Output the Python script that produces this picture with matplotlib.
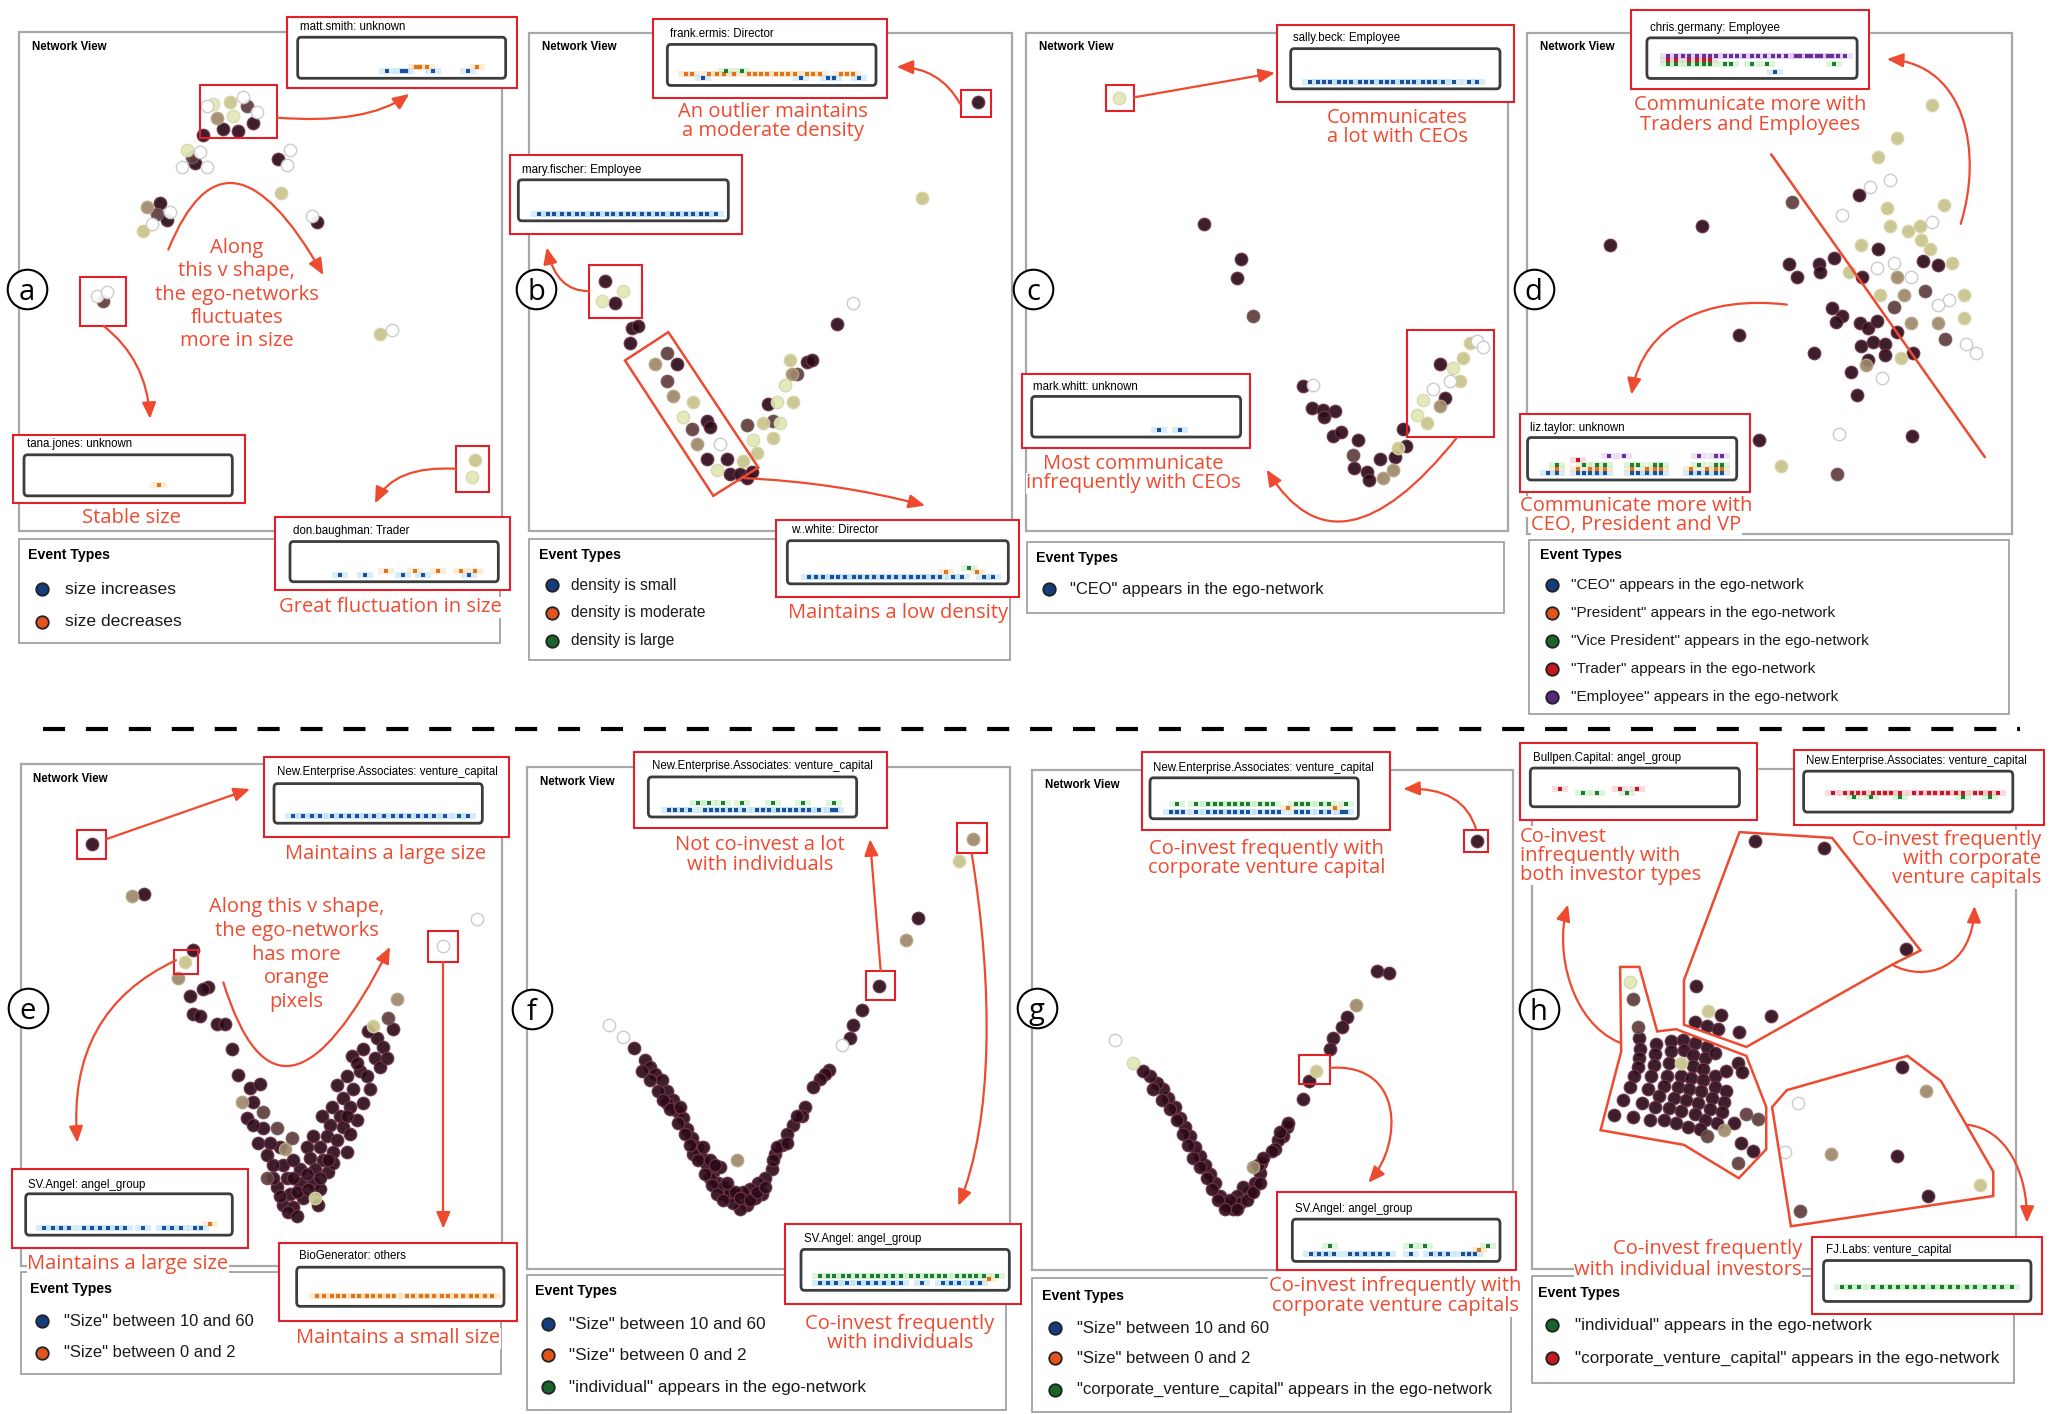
import matplotlib
matplotlib.use("Agg")
import matplotlib.pyplot as plt
from matplotlib.patches import Rectangle, FancyBboxPatch, Polygon, FancyArrowPatch
from matplotlib.path import Path

W, H = 2055, 1414

# ---------------------------------------------------------------- data
# network-view points per panel: (x, y, shade)  shade 0 dark .. 4 pale, 5 hollow
A_POINTS = [
    (640, 245, 4), (690, 240, 3), (740, 250, 1), (770, 265, 5), (650, 280, 2),
    (700, 275, 4), (670, 305, 0), (715, 310, 0), (610, 318, 0), (760, 290, 0),
    (730, 230, 5), (620, 250, 5),
    (560, 355, 4), (600, 360, 5), (585, 385, 0), (620, 395, 5), (545, 395, 5), (575, 370, 1),
    (440, 490, 2), (480, 480, 0), (510, 500, 5), (455, 530, 5), (430, 545, 3), (500, 520, 0),
    (470, 505, 1),
    (835, 375, 0), (870, 355, 5), (860, 390, 5), (843, 455, 3), (950, 525, 0), (935, 510, 5),
    (290, 700, 5), (320, 690, 5), (310, 712, 1),
    (1140, 790, 3), (1175, 780, 5),
    (1425, 1088, 3), (1415, 1128, 4),
]
B_POINTS = [
    (285, 665, 0), (340, 688, 4), (275, 712, 4), (315, 717, 0), (1405, 242, 0), (1235, 468, 3),
    (1030, 715, 5), (980, 765, 0), (365, 775, 0), (385, 770, 0), (360, 810, 0),
    (470, 835, 1), (500, 860, 0), (435, 860, 2), (470, 900, 1), (490, 935, 2), (550, 950, 3),
    (520, 985, 4), (590, 995, 0), (600, 1010, 0), (545, 1015, 1), (560, 1050, 2), (590, 1085, 0),
    (630, 1050, 5), (650, 1085, 0), (620, 1110, 4), (660, 1120, 0), (690, 1120, 0), (710, 1130, 0),
    (725, 1115, 0), (700, 1090, 3), (740, 1070, 3), (730, 1040, 4), (710, 1005, 1), (760, 1000, 3),
    (790, 995, 1), (810, 1000, 4), (790, 1035, 3), (775, 955, 0), (800, 950, 4), (850, 950, 3),
    (825, 910, 4), (860, 885, 1), (890, 855, 0), (840, 850, 3), (905, 850, 0), (845, 885, 2),
]
C_POINTS = [
    (297, 232, 4), (552, 530, 0), (662, 612, 0), (650, 658, 0), (700, 748, 1), (848, 913, 0),
    (880, 910, 5), (875, 965, 0), (910, 968, 0), (945, 972, 0), (912, 985, 0), (940, 1030, 0),
    (962, 1020, 0), (1015, 1040, 0), (1000, 1075, 1), (1003, 1105, 0), (1040, 1115, 0),
    (1048, 1135, 0), (1080, 1085, 0), (1090, 1130, 2), (1125, 1080, 0), (1120, 1110, 2),
    (1150, 1015, 0), (1158, 1055, 0), (1135, 1060, 3), (1260, 860, 0), (1370, 805, 5),
    (1390, 820, 5), (1330, 845, 3), (1300, 870, 4), (1320, 900, 3), (1275, 940, 0), (1240, 920, 5),
    (1210, 945, 4), (1260, 960, 2), (1190, 980, 4), (1220, 1000, 3), (1350, 810, 3), (1290, 900, 5),
]
D_POINTS = [
    (262, 530, 0), (532, 490, 0), (640, 725, 0), (857, 765, 0), (698, 953, 0), (1142, 945, 0),
    (988, 423, 0), (785, 572, 0), (808, 600, 0), (873, 572, 0), (875, 590, 0), (915, 558, 0),
    (997, 600, 0), (910, 668, 0), (940, 685, 0), (922, 698, 0), (990, 700, 0), (1015, 710, 0),
    (1040, 695, 0), (995, 750, 0), (1030, 740, 0), (1065, 745, 0), (1015, 780, 0), (1065, 770, 0),
    (965, 805, 0), (982, 855, 0), (1145, 765, 0), (1220, 575, 0), (1175, 565, 0), (1100, 720, 0),
    (1045, 540, 0),
    (793, 438, 1), (925, 1028, 1), (1090, 665, 1), (1180, 630, 1), (1240, 735, 1),
    (1120, 640, 2), (1140, 700, 2), (1220, 700, 2), (1010, 790, 2), (1100, 600, 2),
    (1200, 228, 3), (1100, 300, 3), (1045, 340, 3), (1070, 450, 3), (1235, 445, 3), (995, 530, 3),
    (1080, 490, 3), (1130, 500, 3), (1165, 490, 3), (1170, 520, 3), (1295, 640, 3), (1260, 570, 3),
    (1295, 690, 3), (960, 590, 3), (1110, 775, 3), (762, 1010, 3), (1195, 540, 3), (1050, 640, 3),
    (1080, 390, 5), (1020, 405, 5), (940, 465, 5), (1040, 580, 5), (1090, 570, 5), (1140, 600, 5),
    (1250, 650, 5), (1300, 745, 5), (1330, 765, 5), (1055, 820, 5), (930, 940, 5), (1200, 480, 5),
    (1220, 660, 5),
]
E_POINTS = [
    (275, 278, 0), (395, 395, 2), (432, 392, 0), (1432, 448, 5), (1330, 508, 5), (555, 545, 3),
    (580, 518, 0), (535, 580, 2),
    (570, 620, 0), (625, 600, 0), (610, 605, 0), (578, 660, 0), (600, 665, 0), (650, 683, 0),
    (675, 683, 0), (695, 740, 0), (715, 798, 0), (750, 828, 0), (780, 818, 0), (725, 858, 2),
    (760, 858, 0), (790, 882, 1), (740, 895, 0), (790, 918, 0), (830, 918, 1), (875, 940, 1),
    (775, 950, 0), (800, 978, 0), (855, 965, 2), (800, 1030, 1),
    (1190, 628, 2), (1165, 670, 1), (1120, 688, 3), (1180, 695, 0), (1130, 715, 0), (1150, 735, 0),
    (1090, 740, 0), (1055, 755, 0), (1125, 760, 0), (1080, 790, 0), (1100, 800, 0), (1040, 800, 0),
    (1010, 820, 0), (1060, 830, 0), (1030, 850, 0), (995, 870, 0), (1050, 870, 0), (1020, 890, 0),
    (965, 890, 0), (990, 910, 0), (1030, 915, 0), (940, 935, 0), (980, 935, 0), (1010, 945, 0),
    (920, 960, 0), (960, 960, 0), (1000, 970, 0), (930, 985, 0), (970, 990, 0), (900, 1010, 0),
    (945, 1010, 0), (985, 1015, 0), (850, 1000, 0), (880, 990, 0), (820, 1000, 0), (860, 1030, 0),
    (900, 1040, 0), (940, 1040, 0), (960, 1055, 0), (830, 1050, 0), (870, 1065, 0), (910, 1075, 0),
    (945, 1075, 3), (850, 1090, 0), (880, 1095, 0), (865, 1105, 0),
    (840, 1070, 0), (890, 1060, 0), (925, 1055, 0), (880, 1030, 0), (920, 1020, 0), (960, 1030, 0),
    (1000, 995, 0), (1040, 970, 0), (1070, 900, 0), (1090, 860, 0), (1110, 830, 0), (1140, 780, 0),
    (1160, 760, 0), (1070, 770, 0), (985, 990, 0), (955, 1090, 0), (890, 1115, 0), (820, 1030, 0),
    (840, 960, 0), (810, 950, 0), (760, 910, 0), (1105, 700, 0), (1050, 930, 0), (1040, 890, 0),
]
F_POINTS = [
    (1388, 268, 2), (1347, 318, 3), (1225, 445, 0), (1187, 495, 2), (1107, 598, 0), (1055, 652, 0),
    (1030, 685, 0), (1020, 715, 0), (995, 730, 5), (958, 787, 0), (945, 795, 0), (930, 808, 0),
    (910, 825, 0), (885, 870, 0), (875, 890, 0), (850, 910, 0), (830, 930, 0), (815, 955, 0),
    (795, 975, 0), (785, 1010, 0), (765, 1030, 0), (745, 1040, 0), (755, 1065, 0), (720, 1055, 0),
    (735, 1075, 0), (700, 1060, 0), (710, 1090, 0), (690, 1100, 0), (680, 990, 2), (298, 685, 5),
    (338, 712, 5), (372, 738, 0), (405, 765, 0), (420, 780, 0), (435, 795, 0), (455, 810, 0),
    (470, 835, 0), (490, 855, 0), (500, 880, 0), (520, 895, 0), (530, 920, 0), (545, 940, 0),
    (560, 960, 0), (575, 985, 0), (590, 1000, 0), (610, 1015, 0), (625, 1040, 0), (640, 1050, 0),
    (655, 1070, 0), (670, 1085, 0), (660, 1060, 0), (600, 1030, 0), (630, 1005, 0), (470, 860, 0),
    (505, 905, 0), (550, 975, 0),
    (395, 790, 0), (420, 810, 0), (445, 835, 0), (460, 855, 0), (480, 875, 0), (510, 870, 0),
    (525, 930, 0), (540, 955, 0), (565, 990, 0), (585, 1020, 0), (605, 1045, 0), (620, 1065, 0),
    (640, 1080, 0), (580, 960, 0), (600, 990, 0), (615, 1000, 0), (650, 1040, 0), (675, 1060, 0),
    (690, 1075, 0), (720, 1080, 0), (740, 1060, 0), (765, 1050, 0), (790, 990, 0), (800, 960, 0),
    (830, 950, 0), (860, 890, 0),
]
G_POINTS = [
    (1372, 272, 0), (1070, 565, 0), (1108, 568, 0), (1008, 640, 2), (980, 668, 0), (965, 690, 0),
    (940, 715, 0), (930, 740, 0), (888, 790, 3), (868, 812, 0), (848, 852, 0), (800, 915, 0),
    (790, 935, 0), (775, 945, 0), (765, 965, 0), (755, 968, 0), (722, 995, 0), (720, 1018, 0),
    (700, 1005, 2), (690, 1060, 0), (670, 1050, 0), (650, 1070, 0), (640, 1100, 0), (620, 1090, 0),
    (600, 1070, 0), (585, 1040, 0), (570, 1020, 0), (555, 1000, 0), (540, 980, 0), (525, 960, 0),
    (510, 935, 0), (495, 915, 0), (480, 895, 0), (465, 870, 0), (445, 850, 0), (430, 830, 0),
    (410, 815, 0), (390, 800, 0), (370, 790, 0), (340, 770, 4), (285, 720, 5), (660, 1085, 0),
    (630, 1080, 0), (705, 1040, 0),
    (400, 830, 0), (425, 855, 0), (450, 875, 0), (470, 900, 0), (490, 930, 0), (505, 955, 0),
    (520, 985, 0), (540, 1005, 0), (560, 1030, 0), (575, 1055, 0), (595, 1080, 0), (615, 1100, 0),
    (650, 1100, 0), (680, 1080, 0), (700, 1060, 0), (715, 1000, 0), (730, 985, 0), (780, 925, 0),
    (805, 905, 0), (720, 1040, 0),
]
H_POINTS = [
    (685, 272, 0), (885, 287, 0), (1125, 515, 0), (512, 598, 0), (548, 655, 3), (585, 662, 0),
    (510, 678, 0), (545, 688, 0), (578, 695, 0), (640, 702, 0), (732, 665, 0),
    (1115, 780, 0), (1183, 833, 2), (810, 862, 5), (772, 970, 5), (908, 975, 2), (1100, 980, 0),
    (1342, 1045, 3), (1190, 1070, 0), (815, 1103, 1),
    (322, 590, 4), (330, 628, 1), (345, 690, 1),
    (348, 715, 0), (350, 740, 0), (347, 760, 0), (343, 780, 0), (333, 800, 0), (320, 825, 0),
    (300, 855, 0), (275, 888, 0),
    (398, 728, 0), (395, 750, 0), (390, 775, 0), (382, 800, 0), (372, 830, 0), (355, 860, 0),
    (330, 893, 0),
    (440, 722, 0), (440, 745, 0), (435, 772, 0), (428, 800, 0), (420, 822, 0), (405, 845, 0),
    (395, 870, 0), (378, 900, 0),
    (475, 720, 0), (478, 742, 0), (470, 772, 3), (468, 800, 0), (460, 825, 0), (450, 850, 0),
    (435, 872, 0), (420, 900, 0),
    (510, 725, 0), (505, 752, 0), (505, 778, 0), (500, 805, 0), (492, 830, 0), (485, 855, 0),
    (470, 880, 0), (455, 905, 0),
    (545, 735, 0), (540, 760, 0), (535, 785, 0), (535, 810, 0), (528, 835, 0), (520, 860, 0),
    (510, 885, 0), (490, 915, 0),
    (568, 748, 0), (570, 800, 0), (568, 825, 0), (560, 850, 0), (555, 875, 0), (540, 900, 0),
    (525, 920, 0),
    (600, 788, 0), (600, 835, 0), (595, 858, 0), (590, 882, 0), (575, 905, 0),
    (635, 770, 0), (648, 792, 0), (625, 905, 0), (545, 935, 1), (595, 922, 2), (660, 885, 1),
    (695, 898, 1), (645, 950, 0), (680, 968, 0), (635, 995, 1),
]

# ego-network timelines: position along the strip per event type
# b blue, o orange, g green, r red, p purple
TL_MATT = {"b": [0.43, 0.50, 0.52, 0.65, 0.82], "o": [0.57, 0.59, 0.62, 0.86]}
TL_TANA = {"o": [0.65]}
TL_DON = {"b": [0.24, 0.36, 0.54, 0.64, 0.86], "o": [0.46, 0.60, 0.71, 0.82, 0.89]}
TL_FRANK = {
    "o": [0.09, 0.12, 0.20, 0.24, 0.27, 0.32, 0.39, 0.42, 0.45, 0.48, 0.52, 0.55, 0.58, 0.61,
          0.67, 0.70, 0.73, 0.83, 0.86, 0.89],
    "b": [0.17, 0.64, 0.77, 0.80, 0.92],
    "g": [0.28, 0.36],
}
TL_MARY = {"b": [0.10, 0.14, 0.17, 0.21, 0.24, 0.28, 0.31, 0.35, 0.38, 0.42, 0.45, 0.49, 0.52,
                 0.55, 0.59, 0.62, 0.66, 0.69, 0.73, 0.76, 0.80, 0.83, 0.87, 0.90, 0.94]}
TL_WHITE = {
    "b": [0.10, 0.13, 0.16, 0.20, 0.23, 0.26, 0.30, 0.33, 0.36, 0.39, 0.43, 0.46, 0.49, 0.53,
          0.56, 0.59, 0.62, 0.66, 0.69, 0.75, 0.79, 0.89, 0.93],
    "o": [0.72, 0.86],
    "g": [0.82],
}
TL_SALLY = {"b": [0.09, 0.13, 0.16, 0.19, 0.23, 0.26, 0.29, 0.33, 0.36, 0.39, 0.43, 0.46, 0.49,
                  0.53, 0.56, 0.59, 0.63, 0.66, 0.69, 0.73, 0.78, 0.85, 0.89]}
TL_MARK = {"b": [0.61, 0.71]}
TL_CHRIS = {
    "r": [0.10, 0.14, 0.20, 0.24, 0.27, 0.30],
    "p": [0.10, 0.14, 0.17, 0.20, 0.24, 0.27, 0.30, 0.33, 0.37, 0.40, 0.43, 0.46, 0.50, 0.53,
          0.56, 0.60, 0.63, 0.66, 0.71, 0.73, 0.76, 0.78, 0.81, 0.83, 0.86, 0.88, 0.91, 0.94],
    "g": [0.10, 0.14, 0.20, 0.24, 0.27, 0.30, 0.37, 0.40, 0.50, 0.57, 0.89],
    "b": [0.61],
}
TL_LIZ = {
    "b": [0.10, 0.14, 0.24, 0.27, 0.30, 0.33, 0.37, 0.50, 0.53, 0.57, 0.61, 0.64, 0.78, 0.82,
          0.86, 0.90, 0.93],
    "o": [0.14, 0.24, 0.30, 0.33, 0.37, 0.50, 0.57, 0.61, 0.64, 0.78, 0.86, 0.90, 0.93],
    "g": [0.14, 0.27, 0.33, 0.37, 0.50, 0.53, 0.61, 0.64, 0.82, 0.90, 0.93],
    "r": [0.24],
    "p": [0.39, 0.46, 0.82, 0.90, 0.93],
}
TL_NEA_E = {"b": [0.09, 0.14, 0.18, 0.22, 0.28, 0.32, 0.36, 0.40, 0.44, 0.48, 0.53, 0.57, 0.61,
                  0.65, 0.69, 0.73, 0.77, 0.82, 0.89, 0.93]}
TL_SV_E = {"b": [0.09, 0.13, 0.17, 0.21, 0.28, 0.32, 0.36, 0.40, 0.44, 0.48, 0.57, 0.67, 0.71,
                 0.75, 0.82, 0.85],
           "o": [0.89]}
TL_BIO = {"o": [0.10, 0.13, 0.17, 0.20, 0.23, 0.27, 0.30, 0.34, 0.37, 0.40, 0.44, 0.47, 0.53,
                0.56, 0.60, 0.63, 0.66, 0.70, 0.73, 0.77, 0.80, 0.84, 0.87, 0.91, 0.94]}
TL_NEA_F = {
    "b": [0.10, 0.13, 0.16, 0.20, 0.27, 0.30, 0.33, 0.36, 0.39, 0.42, 0.46, 0.52, 0.55, 0.58,
          0.62, 0.65, 0.68, 0.71, 0.74, 0.77, 0.82, 0.88, 0.90],
    "g": [0.24, 0.29, 0.36, 0.45, 0.60, 0.74, 0.89],
}
TL_SV_F = {
    "g": [0.09, 0.13, 0.16, 0.20, 0.23, 0.27, 0.30, 0.34, 0.37, 0.41, 0.44, 0.48, 0.53, 0.56,
          0.60, 0.63, 0.66, 0.69, 0.75, 0.78, 0.81, 0.84, 0.88, 0.94],
    "b": [0.09, 0.13, 0.17, 0.22, 0.28, 0.32, 0.36, 0.40, 0.44, 0.48, 0.58, 0.68, 0.72, 0.76,
          0.82, 0.86],
    "o": [0.90],
}
TL_NEA_G = {
    "b": [0.10, 0.13, 0.16, 0.22, 0.28, 0.31, 0.34, 0.38, 0.41, 0.44, 0.47, 0.53, 0.56, 0.59,
          0.62, 0.70, 0.73, 0.76, 0.82, 0.86, 0.92, 0.94],
    "g": [0.13, 0.22, 0.28, 0.31, 0.34, 0.38, 0.41, 0.44, 0.47, 0.53, 0.56, 0.59, 0.70, 0.73,
          0.76, 0.82, 0.86, 0.94],
    "o": [0.66, 0.89],
}
TL_SV_G = {
    "b": [0.09, 0.13, 0.16, 0.20, 0.28, 0.31, 0.35, 0.39, 0.42, 0.46, 0.57, 0.67, 0.71, 0.75,
          0.82, 0.85, 0.88],
    "g": [0.18, 0.57, 0.64, 0.94],
    "o": [0.90],
}
TL_BULLPEN = {"r": [0.14, 0.43, 0.51], "g": [0.25, 0.32, 0.46]}
TL_NEA_H = {
    "r": [0.14, 0.20, 0.23, 0.26, 0.29, 0.33, 0.36, 0.39, 0.42, 0.46, 0.53, 0.56, 0.60, 0.63,
          0.66, 0.69, 0.73, 0.76, 0.82, 0.85, 0.89, 0.93],
    "g": [0.24, 0.32, 0.46, 0.76, 0.89],
}
TL_FJ = {"g": [0.09, 0.13, 0.17, 0.24, 0.28, 0.32, 0.36, 0.40, 0.44, 0.48, 0.53, 0.57, 0.61,
               0.65, 0.69, 0.73, 0.78, 0.82, 0.86, 0.91]}

# legends
A_LEGEND = ["size increases", "size decreases"]
A_LEGEND_COL = ["b", "o"]
B_LEGEND = ["density is small", "density is moderate", "density is large"]
B_LEGEND_COL = ["b", "o", "g"]
C_LEGEND = ['"CEO" appears in the ego-network']
C_LEGEND_COL = ["b"]
D_LEGEND = ['"CEO" appears in the ego-network', '"President" appears in the ego-network',
            '"Vice President" appears in the ego-network', '"Trader" appears in the ego-network',
            '"Employee" appears in the ego-network']
D_LEGEND_COL = ["b", "o", "g", "r", "p"]
E_LEGEND = ['"Size" between 10 and 60', '"Size" between 0 and 2']
E_LEGEND_COL = ["b", "o"]
F_LEGEND = ['"Size" between 10 and 60', '"Size" between 0 and 2',
            '"individual" appears in the ego-network']
F_LEGEND_COL = ["b", "o", "g"]
G_LEGEND = ['"Size" between 10 and 60', '"Size" between 0 and 2',
            '"corporate_venture_capital" appears in the ego-network']
G_LEGEND_COL = ["b", "o", "g"]
H_LEGEND = ['"individual" appears in the ego-network',
            '"corporate_venture_capital" appears in the ego-network']
H_LEGEND_COL = ["g", "r"]

# ---------------------------------------------------------------- style
FACE = ["#2c0a1a", "#5e3b3d", "#9d886a", "#c8c48c", "#e3e6b6", "#ffffff"]
EDGE = ["#6a3445", "#735a58", "#b5a586", "#d6d3a6", "#d5d9b0", "#c8c8c8"]
EV_COL = {"b": "#1c4f9c", "o": "#e0731c", "g": "#1e7a35", "r": "#c01a28", "p": "#6a2f96"}
EV_HALO = {"b": "#a9d8f5", "o": "#fbd7a8", "g": "#b5ecb0", "r": "#f6b3b8", "p": "#d7c0ec"}
LEG_COL = {"b": "#133d7d", "o": "#e2531d", "g": "#17652b", "r": "#c9151d", "p": "#56297c"}
LEVEL = {"b": 0.17, "o": 0.27, "g": 0.36, "r": 0.46, "p": 0.56}
RED_BOX = "#e3202a"
RED = "#ee4a30"
SANS = ["Liberation Sans", "DejaVu Sans"]
NOTE = ["Open Sans", "DejaVu Sans"]
DASH = [(-1, -0.7), (1, -0.7), (1, 0.7), (-1, 0.7), (-1, -0.7)]
HALO = [(-1, -0.35), (1, -0.35), (1, 0.35), (-1, 0.35), (-1, -0.35)]

# window of the full image (x0, y0, w, h) that each panel's grid covers
WIN = {
    "a": (0, 0, 520, 660), "b": (510, 0, 520, 660), "c": (1020, 0, 520, 660),
    "d": (1520, 0, 535, 720), "e": (0, 720, 520, 694), "f": (510, 720, 520, 694),
    "g": (1020, 720, 520, 694), "h": (1520, 720, 535, 694),
}

fig = plt.figure(figsize=(W / 100, H / 100), dpi=100)
fig.patch.set_facecolor("white")

# separator between the two datasets
base = fig.add_axes([0, 0, 1, 1])
base.set_xlim(0, W)
base.set_ylim(H, 0)
base.axis("off")
base.plot([43, 2020], [729, 729], color="black", lw=3, ls=(0, (5.3, 5.0)))


def panel(key):
    x0, y0, w, h = WIN[key]
    ax = fig.add_axes([x0 / W, 1 - (y0 + h) / H, w / W, h / H])
    ax.set_xlim(0, 1560)
    ax.set_ylim(1560, 0)
    ax.axis("off")
    return ax


def rect(ax, r, color, lw, z=1, fill=None):
    x0, y0, x1, y1 = r
    ax.add_patch(Rectangle((x0, y0), x1 - x0, y1 - y0, facecolor=fill or "none",
                           edgecolor=color, lw=lw, zorder=z, clip_on=False))


def network_view(ax, r, title_xy, letter, letter_xy):
    rect(ax, r, "#a8a8a8", 1.6)
    ax.text(title_xy[0], title_xy[1], "Network View", fontsize=8.3, fontweight="bold",
            family=SANS, va="center", zorder=2)
    ax.plot(*letter_xy, "o", ms=28.5, mfc="white", mec="black", mew=1.5, zorder=8, clip_on=False)
    ax.text(letter_xy[0], letter_xy[1], letter, fontsize=21, family=NOTE, ha="center",
            va="center_baseline", zorder=9)


def points(ax, pts, s=80):
    for k in range(6):
        sel = [(x, y) for x, y, c in pts if c == k]
        if not sel:
            continue
        xs, ys = zip(*sel)
        ax.scatter(xs, ys, s=s, facecolor=FACE[k], edgecolor=EDGE[k], linewidths=1.0,
                   alpha=0.92, zorder=3, clip_on=False)


def timeline(ax, red, title, title_xy, strip, events):
    rect(ax, red, RED_BOX, 1.5, z=6, fill="white")
    ax.text(title_xy[0], title_xy[1], title, fontsize=8.3, family=SANS, va="center", zorder=7)
    sx0, sy0, sx1, sy1 = strip
    ax.add_patch(FancyBboxPatch((sx0, sy0), sx1 - sx0, sy1 - sy0,
                                boxstyle="round,pad=0,rounding_size=10", facecolor="white",
                                edgecolor="#3d3d3d", lw=2.0, zorder=7, clip_on=False))
    inv = fig.transFigure.inverted()
    fx0, fy0 = inv.transform(ax.transData.transform((sx0, sy1)))
    fx1, fy1 = inv.transform(ax.transData.transform((sx1, sy0)))
    tax = fig.add_axes([fx0, fy0, fx1 - fx0, fy1 - fy0])
    tax.set_xlim(0, 1)
    tax.set_ylim(0, 1)
    tax.axis("off")
    for k, xs in events.items():
        ys = [LEVEL[k]] * len(xs)
        tax.scatter(xs, ys, marker=HALO, s=130, c=EV_HALO[k], alpha=0.45, linewidths=0)
    for k, xs in events.items():
        tax.scatter(xs, [LEVEL[k]] * len(xs), marker=DASH, s=11, c=EV_COL[k], linewidths=0)


def legend(ax, r, title_xy, labels, cols, ys, dot_x, text_x, fs):
    rect(ax, r, "#9a9a9a", 1.2)
    ax.text(title_xy[0], title_xy[1], "Event Types", fontsize=10.2, fontweight="bold",
            family=SANS, va="center", zorder=2)
    for lab, col, y in zip(labels, cols, ys):
        ax.plot(dot_x, y, "o", ms=9, mfc=LEG_COL[col], mec="#222222", mew=1.3, zorder=2,
                clip_on=False)
        ax.text(text_x, y, lab, fontsize=fs, family=SANS, va="center", color="#1a1a1a", zorder=2)


def note(ax, x, ys, lines, ha="center", bg=True, fs=14.5):
    for y, s in zip(ys, lines):
        kw = {}
        if bg:
            kw["bbox"] = dict(facecolor="white", edgecolor="none", pad=0.3)
        ax.text(x, y, s, fontsize=fs, family=NOTE, color=RED, ha=ha, va="center", zorder=2, **kw)


def arrow(ax, p0, p1, ctrl=()):
    verts = [p0, *ctrl, p1]
    codes = [Path.MOVETO] + {0: [Path.LINETO], 1: [Path.CURVE3] * 2,
                             2: [Path.CURVE4] * 3}[len(ctrl)]
    ax.add_patch(FancyArrowPatch(path=Path(verts, codes),
                                 arrowstyle="-|>,head_length=0.7,head_width=0.3",
                                 mutation_scale=14, color=RED, lw=1.6, zorder=5, clip_on=False))


def outline(ax, pts):
    ax.add_patch(Polygon(pts, closed=True, fill=False, edgecolor=RED, lw=1.8, zorder=4,
                         clip_on=False))


# ---------------------------------------------------------------- panel a
ax = panel("a")
network_view(ax, (57, 75, 1505, 1255), (95, 110), "a", (80, 682))
legend(ax, (57, 1275, 1500, 1520), (85, 1312), A_LEGEND, A_LEGEND_COL, [1393, 1470], 125, 195, 12.6)
note(ax, 710, [585, 640, 697, 752, 805],
     ["Along", "this v shape,", "the ego-networks", "fluctuates", "more in size"], bg=False)
points(ax, A_POINTS)
for r in [(600, 202, 830, 325), (240, 655, 378, 770), (1368, 1053, 1467, 1163)]:
    rect(ax, r, RED_BOX, 1.5, z=4)
arrow(ax, (830, 278), (1228, 222), [(1100, 295)])
arrow(ax, (310, 770), (450, 990), [(440, 850)])
arrow(ax, (1368, 1108), (1125, 1190), [(1180, 1100)])
arrow(ax, (505, 590), (970, 650), [(680, 250)])
timeline(ax, (862, 40, 1550, 207), "matt.smith: unknown", (900, 65), (893, 88, 1517, 185), TL_MATT)
timeline(ax, (40, 1028, 735, 1188), "tana.jones: unknown", (80, 1050), (72, 1075, 697, 1172), TL_TANA)
timeline(ax, (826, 1222, 1530, 1395), "don.baughman: Trader", (878, 1255), (870, 1280, 1495, 1375), TL_DON)
note(ax, 393, [1225], ["Stable size"])
note(ax, 1172, [1435], ["Great fluctuation in size"])

# ---------------------------------------------------------------- panel b
ax = panel("b")
network_view(ax, (57, 78, 1505, 1255), (95, 110), "b", (78, 682))
legend(ax, (57, 1275, 1500, 1560), (88, 1312), B_LEGEND, B_LEGEND_COL, [1383, 1448, 1515], 127, 183, 11.2)
points(ax, B_POINTS)
for r in [(1352, 212, 1443, 277), (238, 627, 397, 752)]:
    rect(ax, r, RED_BOX, 1.5, z=4)
outline(ax, [(345, 852), (475, 785), (745, 1105), (610, 1172)])
arrow(ax, (1350, 245), (1160, 158), [(1290, 160)])
arrow(ax, (238, 688), (110, 585), [(140, 690)])
arrow(ax, (700, 1130), (1245, 1195), [(980, 1140)])
timeline(ax, (428, 46, 1130, 232), "frank.ermis: Director", (480, 80), (472, 105, 1098, 202), TL_FRANK)
timeline(ax, (0, 367, 695, 552), "mary.fischer: Employee", (35, 402), (25, 425, 655, 522), TL_MARY)
timeline(ax, (797, 1228, 1527, 1412), "w..white: Director", (842, 1253), (832, 1278, 1495, 1380), TL_WHITE)
note(ax, 788, [265, 310], ["An outlier maintains", "a moderate density"])
note(ax, 1165, [1450], ["Maintains a low density"])

# ---------------------------------------------------------------- panel c
ax = panel("c")
network_view(ax, (18, 78, 1465, 1255), (57, 112), "c", (40, 682))
legend(ax, (22, 1280, 1452, 1450), (48, 1318), C_LEGEND, C_LEGEND_COL, [1393], 87, 150, 11.9)
points(ax, C_POINTS)
for r in [(257, 202, 343, 263), (1162, 780, 1422, 1033)]:
    rect(ax, r, RED_BOX, 1.5, z=4)
arrow(ax, (343, 230), (765, 172))
arrow(ax, (1310, 1035), (740, 1110), [(955, 1385)])
timeline(ax, (770, 58, 1482, 242), "sally.beck: Employee", (820, 90), (812, 115, 1440, 210), TL_SALLY)
timeline(ax, (5, 885, 690, 1058), "mark.whitt: unknown", (40, 915), (35, 937, 662, 1033), TL_MARK)
note(ax, 1133, [280, 325], ["Communicates", "a lot with CEOs"])
note(ax, 340, [1097, 1142], ["Most communicate", "infrequently with CEOs"])

# ---------------------------------------------------------------- panel d
ax = panel("d")
network_view(ax, (20, 72, 1435, 1158), (57, 102), "d", (40, 627))
legend(ax, (27, 1170, 1427, 1548), (58, 1203), D_LEGEND, D_LEGEND_COL,
       [1268, 1328, 1388, 1450, 1510], 93, 150, 11.0)
points(ax, D_POINTS)
ax.plot([733, 1355], [335, 990], color=RED, lw=1.8, zorder=4)
arrow(ax, (1285, 485), (1070, 128), [(1350, 330), (1300, 140)])
arrow(ax, (778, 660), (325, 855), [(550, 640), (360, 700)])
timeline(ax, (323, 22, 1018, 193), "chris.germany: Employee", (378, 60), (370, 82, 983, 170), TL_CHRIS)
timeline(ax, (0, 897, 672, 1065), "liz.taylor: unknown", (30, 928), (22, 948, 632, 1040), TL_LIZ)
note(ax, 672, [228, 270], ["Communicate more with", "Traders and Employees"])
note(ax, 340, [1097, 1137], ["Communicate more with", "CEO, President and VP"])

# ---------------------------------------------------------------- panel e
ax = panel("e")
network_view(ax, (62, 100, 1507, 1228), (100, 132), "e", (83, 648))
legend(ax, (62, 1240, 1503, 1470), (90, 1280), E_LEGEND, E_LEGEND_COL, [1352, 1422], 127, 192, 11.9)
note(ax, 890, [420, 475, 528, 580, 633],
     ["Along this v shape,", "the ego-networks", "has more", "orange", "pixels"], bg=False)
points(ax, E_POINTS)
for r in [(230, 248, 318, 312), (522, 517, 595, 570), (1283, 475, 1375, 543)]:
    rect(ax, r, RED_BOX, 1.5, z=4)
arrow(ax, (318, 268), (750, 155))
arrow(ax, (528, 540), (232, 950), [(200, 655)])
arrow(ax, (670, 590), (1170, 510), [(840, 1000)])
arrow(ax, (1330, 543), (1330, 1143))
timeline(ax, (793, 83, 1527, 263), "New.Enterprise.Associates: venture_capital", (832, 118),
         (822, 143, 1447, 232), TL_NEA_E)
timeline(ax, (35, 1010, 745, 1187), "SV.Angel: angel_group", (85, 1045), (77, 1065, 697, 1158), TL_SV_E)
timeline(ax, (837, 1175, 1550, 1352), "BioGenerator: others", (898, 1205), (890, 1230, 1512, 1318), TL_BIO)
note(ax, 1157, [302], ["Maintains a large size"])
note(ax, 383, [1223], ["Maintains a large size"])
note(ax, 1195, [1390], ["Maintains a small size"])

# ---------------------------------------------------------------- panel f
ax = panel("f")
network_view(ax, (50, 105, 1500, 1235), (90, 140), "f", (65, 650))
legend(ax, (50, 1248, 1488, 1550), (75, 1283), F_LEGEND, F_LEGEND_COL, [1358, 1428, 1500], 113, 178, 12.3)
points(ax, F_POINTS)
for r in [(1340, 232, 1432, 300), (1068, 565, 1155, 630)]:
    rect(ax, r, RED_BOX, 1.5, z=4)
arrow(ax, (1112, 563), (1080, 268))
arrow(ax, (1385, 300), (1345, 1092), [(1450, 600), (1450, 900)])
timeline(ax, (372, 73, 1132, 243), "New.Enterprise.Associates: venture_capital", (425, 103),
         (415, 128, 1040, 218), TL_NEA_F)
timeline(ax, (825, 1133, 1532, 1312), "SV.Angel: angel_group", (883, 1167), (873, 1190, 1498, 1282), TL_SV_F)
note(ax, 750, [282, 325], ["Not co-invest a lot", "with individuals"])
note(ax, 1170, [1358, 1400], ["Co-invest frequently", "with individuals"])

# ---------------------------------------------------------------- panel g
ax = panel("g")
network_view(ax, (35, 112, 1480, 1237), (75, 147), "g", (50, 648))
legend(ax, (37, 1255, 1472, 1555), (65, 1295), G_LEGEND, G_LEGEND_COL, [1367, 1435, 1505], 105, 170, 12.1)
points(ax, G_POINTS)
for r in [(1333, 247, 1403, 297), (838, 752, 930, 818)]:
    rect(ax, r, RED_BOX, 1.5, z=4)
arrow(ax, (1368, 245), (1150, 155), [(1330, 150)])
arrow(ax, (930, 782), (1045, 1040), [(1150, 770), (1150, 950)])
timeline(ax, (365, 72, 1110, 247), "New.Enterprise.Associates: venture_capital", (398, 108),
         (390, 130, 1015, 222), TL_NEA_G)
timeline(ax, (770, 1062, 1487, 1237), "SV.Angel: angel_group", (825, 1100), (817, 1122, 1440, 1217), TL_SV_G)
note(ax, 740, [290, 333], ["Co-invest frequently with", "corporate venture capital"])
note(ax, 1125, [1273, 1318], ["Co-invest infrequently with", "corporate venture capitals"])

# ---------------------------------------------------------------- panel h
ax = panel("h")
network_view(ax, (35, 110, 1445, 1235), (75, 140), "h", (55, 650))
legend(ax, (35, 1250, 1440, 1490), (52, 1288), H_LEGEND, H_LEGEND_COL, [1360, 1435], 93, 160, 12.3)
points(ax, H_POINTS)
outline(ax, [(640, 252), (910, 265), (1168, 518), (1085, 550), (660, 735), (478, 685), (478, 585)])
outline(ax, [(292, 555), (348, 555), (400, 700), (455, 695), (660, 755), (718, 870), (718, 965),
             (638, 1030), (478, 955), (235, 922), (295, 745)])
outline(ax, [(778, 832), (1130, 755), (1228, 812), (1380, 1015), (1380, 1070), (790, 1138), (735, 870)])
arrow(ax, (290, 725), (140, 415), [(150, 680), (100, 520)])
arrow(ax, (1085, 550), (1325, 418), [(1180, 590), (1320, 560)])
arrow(ax, (1305, 910), (1478, 1130), [(1420, 920), (1480, 1020)])
timeline(ax, (0, 52, 690, 225), "Bullpen.Capital: angel_group", (38, 85), (30, 108, 640, 195), TL_BULLPEN)
timeline(ax, (800, 68, 1527, 235), "New.Enterprise.Associates: venture_capital", (835, 93),
         (827, 115, 1437, 207), TL_NEA_H)
timeline(ax, (852, 1162, 1522, 1335), "FJ.Labs: venture_capital", (893, 1192), (885, 1215, 1490, 1307), TL_FJ)
note(ax, 0, [262, 305, 348], ["Co-invest", "infrequently with", "both investor types"], ha="left")
note(ax, 1520, [270, 313, 356], ["Co-invest frequently", "with corporate", "venture capitals"], ha="right")
note(ax, 822, [1190, 1237], ["Co-invest frequently", "with individual investors"], ha="right")

fig.savefig("out.png", dpi=100, facecolor="white")
